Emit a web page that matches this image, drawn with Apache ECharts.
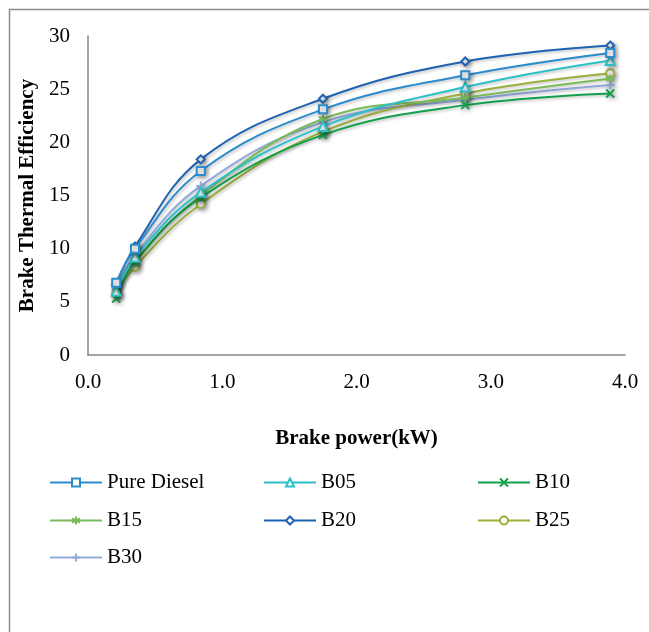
<!DOCTYPE html>
<html><head><meta charset="utf-8">
<script src="https://cdn.jsdelivr.net/npm/echarts@6/dist/echarts.min.js"></script>
<style>html,body{margin:0;padding:0;background:#fff}#c{width:649px;height:632px}</style>
</head><body><div id="c"></div>
<script>
const brakePower = [0.21, 0.35, 0.84, 1.75, 2.81, 3.89];
const seriesNames = ['Pure Diesel', 'B05', 'B10', 'B15', 'B20', 'B25', 'B30'];
const pureDiesel = [6.8, 10.0, 17.3, 23.1, 26.3, 28.4];
const b05 = [6.0, 9.2, 15.3, 21.5, 25.2, 27.7];
const b10 = [5.3, 8.8, 14.8, 20.7, 23.5, 24.6];
const b15 = [5.7, 8.7, 15.0, 22.2, 24.2, 26.0];
const b20 = [6.6, 10.2, 18.4, 24.1, 27.6, 29.1];
const b25 = [5.8, 8.3, 14.2, 21.0, 24.6, 26.5];
const b30 = [6.2, 9.4, 15.9, 21.9, 24.0, 25.4];
const yTicks = [0, 5, 10, 15, 20, 25, 30];
const xTicks = ['0.0', '1.0', '2.0', '3.0', '4.0'];

const values = [pureDiesel, b05, b10, b15, b20, b25, b30];
const colors = ['#2a8ccc', '#2cc0c8', '#13a04c', '#79bb5a', '#1f62b0', '#9bb03c', '#93a9dc'];
const xPath = 'path://M0,0 L10,10 M10,0 L0,10';
const starPath = 'path://M5,0 L5,10 M0,2.5 L10,7.5 M0,7.5 L10,2.5';
const plusPath = 'path://M5,0 L5,10 M0,5 L10,5';
const symbols = ['rect', 'triangle', xPath, starPath, 'diamond', 'circle', plusPath];
const symSizes = [8, 9, 8, 8, 8, 8, 9];
const font = 'Liberation Serif, Times New Roman, serif';

const series = seriesNames.map((n, i) => ({
  name: n, type: 'line', smooth: 0.4,
  data: brakePower.map((x, j) => [x, values[i][j]]),
  symbol: symbols[i], symbolSize: symSizes[i], showSymbol: true,
  lineStyle: { color: colors[i], width: 2, shadowColor: 'rgba(0,0,0,0.25)', shadowBlur: 3, shadowOffsetX: 1.5, shadowOffsetY: 1.5 },
  itemStyle: { color: '#fff', borderColor: colors[i], borderWidth: 2, shadowColor: 'rgba(0,0,0,0.35)', shadowBlur: 4, shadowOffsetX: 2, shadowOffsetY: 2 },
  emphasis: { disabled: true },
  z: 10 - i
}));

const legendPos = [
  [49, 481], [263, 481], [477, 481],
  [49, 519], [263, 519], [477, 519],
  [49, 556]
];
const legends = seriesNames.map((n, i) => ({
  data: [n], left: legendPos[i][0], top: legendPos[i][1] - 9,
  itemWidth: 52, itemHeight: 10, itemGap: 5, padding: 0,
  textStyle: { fontFamily: font, fontSize: 21, color: '#000' },
  selectedMode: false
}));

const chart = echarts.init(document.getElementById('c'), null, { renderer: 'canvas' });
chart.setOption({
  animation: false,
  backgroundColor: '#fff',
  graphic: [{ type: 'rect', left: 7, top: 7, shape: { width: 700, height: 700 }, style: { fill: 'none', stroke: '#8c8c8c', lineWidth: 1.5 }, z: -10 }],
  grid: { left: 88, right: 24, top: 36, bottom: 277 },
  legend: legends,
  xAxis: {
    type: 'value', min: 0, max: 4, interval: 1,
    name: 'Brake power(kW)', nameLocation: 'middle', nameGap: 73,
    nameTextStyle: { fontFamily: font, fontSize: 21, fontWeight: 'bold', color: '#000' },
    axisLine: { show: true, lineStyle: { color: '#878787', width: 1.5 } },
    axisTick: { show: false }, splitLine: { show: false },
    axisLabel: { fontFamily: font, fontSize: 21, color: '#000', margin: 17,
      formatter: v => xTicks[Math.round(v)] }
  },
  yAxis: {
    type: 'value', min: yTicks[0], max: yTicks[yTicks.length - 1], interval: 5,
    name: 'Brake Thermal Efficiency', nameLocation: 'middle', nameGap: 46,
    nameTextStyle: { fontFamily: font, fontSize: 21, fontWeight: 'bold', color: '#000' },
    axisLine: { show: true, lineStyle: { color: '#878787', width: 1.5 } },
    axisTick: { show: false }, splitLine: { show: false },
    axisLabel: { fontFamily: font, fontSize: 21, color: '#000', margin: 18 }
  },
  series: series
});
</script></body></html>
